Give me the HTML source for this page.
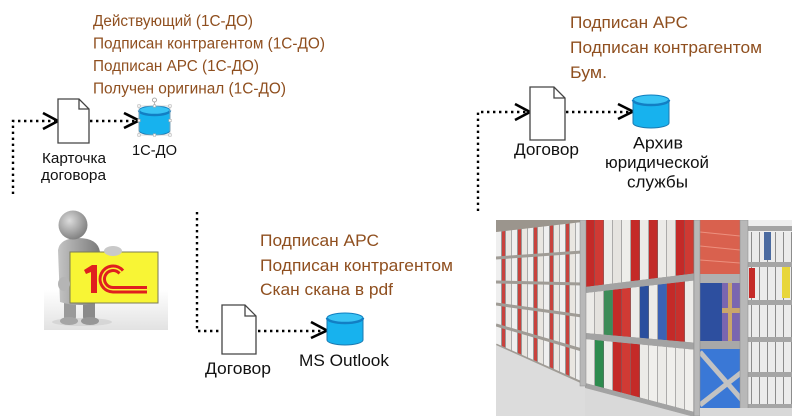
<!DOCTYPE html>
<html><head><meta charset="utf-8">
<style>html,body{margin:0;padding:0;background:#fff;overflow:hidden}svg{display:block}</style>
</head><body>
<svg width="792" height="416" viewBox="0 0 792 416" xmlns="http://www.w3.org/2000/svg" font-family="'Liberation Sans', 'Noto Sans CJK SC', Arial, sans-serif">
<defs>
  <clipPath id="pc"><rect x="496" y="220" width="296" height="196"/></clipPath>
  <clipPath id="r1"><polygon points="585,220 698,220 698,273 585,287"/></clipPath>
  <clipPath id="r2"><polygon points="585,293 698,280 698,343 585,333"/></clipPath>
  <clipPath id="r3"><polygon points="585,339 698,350 698,413 585,383"/></clipPath>
  <pattern id="pL" width="16" height="10" patternUnits="userSpaceOnUse">
    <rect x="0" y="0" width="5" height="10" fill="#efefef"/>
    <rect x="5" y="0" width="1" height="10" fill="#999"/>
    <rect x="6" y="0" width="3" height="10" fill="#c8423d"/>
    <rect x="9" y="0" width="1" height="10" fill="#999"/>
    <rect x="10" y="0" width="5" height="10" fill="#e9e6e1"/>
    <rect x="15" y="0" width="1" height="10" fill="#aaa"/>
  </pattern>
  <pattern id="pR" width="8" height="10" patternUnits="userSpaceOnUse">
    <rect x="0" y="0" width="7" height="10" fill="#ebebeb"/>
    <rect x="7" y="0" width="1" height="10" fill="#8c8c8c"/>
  </pattern>
  <linearGradient id="floorG" x1="0" y1="0" x2="0" y2="1">
    <stop offset="0" stop-color="#ffffff"/>
    <stop offset="1" stop-color="#e2e2e2"/>
  </linearGradient>
  <radialGradient id="headG" cx="0.38" cy="0.35" r="0.7">
    <stop offset="0" stop-color="#dcdcdc"/>
    <stop offset="1" stop-color="#7c7c7c"/>
  </radialGradient>
  <linearGradient id="bodyG" x1="0" y1="0" x2="1" y2="0">
    <stop offset="0" stop-color="#c4c4c4"/>
    <stop offset="1" stop-color="#7a7a7a"/>
  </linearGradient>
</defs>

<g fill="#8f4f1f">
  <text x="93" y="26" font-size="15.5" textLength="160" lengthAdjust="spacingAndGlyphs">Действующий (1С-ДО)</text>
  <text x="93" y="48.5" font-size="15.5" textLength="232" lengthAdjust="spacingAndGlyphs">Подписан контрагентом (1С-ДО)</text>
  <text x="93" y="71" font-size="15.5" textLength="166" lengthAdjust="spacingAndGlyphs">Подписан АРС (1С-ДО)</text>
  <text x="93" y="93.5" font-size="15.5" textLength="193" lengthAdjust="spacingAndGlyphs">Получен оригинал (1С-ДО)</text>

  <text x="570" y="28" font-size="17" textLength="118" lengthAdjust="spacingAndGlyphs">Подписан АРС</text>
  <text x="570" y="53" font-size="17" textLength="192" lengthAdjust="spacingAndGlyphs">Подписан контрагентом</text>
  <text x="570" y="78" font-size="17" textLength="37" lengthAdjust="spacingAndGlyphs">Бум.</text>

  <text x="260" y="246" font-size="17" textLength="119" lengthAdjust="spacingAndGlyphs">Подписан АРС</text>
  <text x="260" y="271" font-size="17" textLength="193" lengthAdjust="spacingAndGlyphs">Подписан контрагентом</text>
  <text x="260" y="295" font-size="17" textLength="133" lengthAdjust="spacingAndGlyphs">Скан скана в pdf</text>
</g>

<g stroke="#000" stroke-width="2.4" fill="none" stroke-dasharray="2.4 3.6">
  <polyline points="13,194 13,121 55,121"/>
  <line x1="90" y1="121" x2="136" y2="121"/>
  <polyline points="197,212 197,331 324,331"/>
  <polyline points="478,211 478,112 527,112"/>
  <line x1="566" y1="112" x2="630" y2="112"/>
</g>
<g stroke="#000" stroke-width="2.6" fill="none" stroke-linejoin="miter">
  <polyline points="43,113 58,121 43,129"/>
  <polyline points="124,113 139,120.5 124,128"/>
  <polyline points="311,322 327,330.5 311,338"/>
  <polyline points="515,104 530,112 515,120"/>
  <polyline points="618,104 633,111.5 618,119"/>
</g>

<g fill="#fff" stroke="#444" stroke-width="1.3">
  <path d="M58 99 H79 L89 109 V143 H58 Z"/>
  <path d="M79 99 V109 H89" fill="none"/>
  <path d="M222 305 H245 L256 316 V354 H222 Z"/>
  <path d="M245 305 V316 H256" fill="none"/>
  <path d="M530 87 H554 L565 98 V140 H530 Z"/>
  <path d="M554 87 V98 H565" fill="none"/>
</g>

<g>
  <path d="M139 110.5 V130.5 A15.5 4.5 0 0 0 170 130.5 V110.5 Z" fill="#17b2ee" stroke="#1b79b0" stroke-width="1"/>
  <ellipse cx="154.5" cy="110.5" rx="15.5" ry="4.5" fill="#38c3f4" stroke="#0f7fc0" stroke-width="1"/>
  <path d="M139 110.5 A15.5 4.5 0 0 0 170 110.5" fill="none" stroke="#127fc4" stroke-width="2.5"/>
  <rect x="139" y="106" width="31" height="29" fill="none" stroke="#bdbdbd" stroke-width="0.6"/>
  <line x1="154.5" y1="102" x2="154.5" y2="106" stroke="#aaa" stroke-width="0.8"/>
  <circle cx="154.5" cy="100" r="2" fill="#fff" stroke="#999" stroke-width="0.8"/>
  <g fill="#fff" stroke="#aaa" stroke-width="0.6">
    <rect x="137.8" y="104.8" width="2.4" height="2.4"/><rect x="153.3" y="104.8" width="2.4" height="2.4"/><rect x="168.8" y="104.8" width="2.4" height="2.4"/>
    <rect x="137.8" y="119.3" width="2.4" height="2.4"/><rect x="168.8" y="119.3" width="2.4" height="2.4"/>
    <rect x="137.8" y="133.8" width="2.4" height="2.4"/><rect x="153.3" y="133.8" width="2.4" height="2.4"/><rect x="168.8" y="133.8" width="2.4" height="2.4"/>
  </g>

  <path d="M327 318 V340 A18 5 0 0 0 363 340 V318 Z" fill="#17b2ee" stroke="#1b79b0" stroke-width="1"/>
  <ellipse cx="345" cy="318" rx="18" ry="5" fill="#38c3f4" stroke="#0f7fc0" stroke-width="1"/>
  <path d="M327 318 A18 5 0 0 0 363 318" fill="none" stroke="#127fc4" stroke-width="2.5"/>

  <path d="M633 100 V123 A18 5 0 0 0 669 123 V100 Z" fill="#17b2ee" stroke="#1b79b0" stroke-width="1"/>
  <ellipse cx="651" cy="100" rx="18" ry="5" fill="#38c3f4" stroke="#0f7fc0" stroke-width="1"/>
  <path d="M633 100 A18 5 0 0 0 669 100" fill="none" stroke="#127fc4" stroke-width="2.5"/>
</g>

<g fill="#111">
  <text x="74" y="163" font-size="15" text-anchor="middle" textLength="64" lengthAdjust="spacingAndGlyphs">Карточка</text>
  <text x="73.5" y="180" font-size="15" text-anchor="middle" textLength="65" lengthAdjust="spacingAndGlyphs">договора</text>
  <text x="154.5" y="155" font-size="15" text-anchor="middle" textLength="45" lengthAdjust="spacingAndGlyphs">1С-ДО</text>

  <text x="238" y="374" font-size="16.5" text-anchor="middle" textLength="66" lengthAdjust="spacingAndGlyphs">Договор</text>
  <text x="344" y="366" font-size="16.5" text-anchor="middle" textLength="90" lengthAdjust="spacingAndGlyphs">MS Outlook</text>

  <text x="546.5" y="155" font-size="16.5" text-anchor="middle" textLength="65" lengthAdjust="spacingAndGlyphs">Договор</text>
  <text x="658" y="148.5" font-size="16.5" text-anchor="middle" textLength="50" lengthAdjust="spacingAndGlyphs">Архив</text>
  <text x="657" y="168" font-size="16.5" text-anchor="middle" textLength="104" lengthAdjust="spacingAndGlyphs">юридической</text>
  <text x="657.5" y="187.5" font-size="16.5" text-anchor="middle" textLength="61" lengthAdjust="spacingAndGlyphs">службы</text>
</g>

<g>
  <rect x="44" y="290" width="124" height="40" fill="url(#floorG)"/>
  <ellipse cx="82" cy="322" rx="30" ry="4" fill="#cfcfcf" opacity="0.7"/>
  <rect x="64" y="298" width="12" height="22" rx="3" fill="#9a9a9a"/>
  <rect x="83" y="298" width="12" height="22" rx="3" fill="#8a8a8a"/>
  <ellipse cx="69" cy="321" rx="9" ry="4" fill="#a5a5a5"/>
  <ellipse cx="90" cy="321" rx="9" ry="4" fill="#969696"/>
  <path d="M58 250 Q60 238 78 238 Q98 238 100 252 L100 302 Q80 308 60 302 Z" fill="url(#bodyG)"/>
  <circle cx="73" cy="225" r="14.5" fill="url(#headG)"/>
  <rect x="70" y="252" width="88" height="51" fill="#f8f535" stroke="#7a7a55" stroke-width="1"/>
  <ellipse cx="113" cy="251" rx="9" ry="5" fill="#c9c9c9"/>
  <ellipse cx="64" cy="284" rx="6" ry="7" fill="#b5b5b5"/>
  <path d="M84 270 L92 265 L97 265 L97 293 L91 293 L91 272 L86 274 Z" fill="#e01f1f"/>
  <g fill="none" stroke="#e01f1f" stroke-width="3">
    <path d="M123 270.6 A13 13 0 1 0 113 292 L147 292"/>
    <path d="M119.5 273.5 A8.5 8.5 0 1 0 113 287.5 L147 287.5"/>
  </g>
</g>

<g clip-path="url(#pc)">
  <rect x="496" y="220" width="296" height="196" fill="#c4c0ba"/>
  <polygon points="496,232 582,222 582,383 496,345" fill="url(#pL)"/>
  <polygon points="496,220 582,220 582,222 496,232" fill="#9b958d"/>
  <g stroke="#a09c96" stroke-width="3">
    <line x1="496" y1="258" x2="582" y2="252"/>
    <line x1="496" y1="282" x2="582" y2="284"/>
    <line x1="496" y1="304" x2="582" y2="316"/>
    <line x1="496" y1="325" x2="582" y2="350"/>
    <line x1="496" y1="345" x2="582" y2="383"/>
  </g>
  <polygon points="496,345 585,385 585,416 496,416" fill="#dcdcdc"/>

  <g clip-path="url(#r1)">
    <rect x="585" y="220" width="113" height="70" fill="#6b6b6b"/>
    <rect x="586" y="220" width="8.5" height="70" fill="#c42a28"/>
    <rect x="595" y="220" width="8.5" height="70" fill="#d03a34"/>
    <rect x="604" y="220" width="8.5" height="70" fill="#ecebe8"/>
    <rect x="613" y="220" width="8.5" height="70" fill="#e6e4e0"/>
    <rect x="622" y="220" width="8.5" height="70" fill="#eeeeea"/>
    <rect x="631" y="220" width="8.5" height="70" fill="#c42a28"/>
    <rect x="640" y="220" width="8.5" height="70" fill="#ecebe8"/>
    <rect x="649" y="220" width="8.5" height="70" fill="#c22a28"/>
    <rect x="658" y="220" width="8.5" height="70" fill="#ecebe8"/>
    <rect x="667" y="220" width="8.5" height="70" fill="#e8e6e2"/>
    <rect x="676" y="220" width="8.5" height="70" fill="#c42a28"/>
    <rect x="685" y="220" width="8.5" height="70" fill="#cf3a33"/>
    <rect x="694" y="220" width="4" height="70" fill="#ecebe8"/>
  </g>
  <g clip-path="url(#r2)">
    <rect x="585" y="280" width="113" height="65" fill="#6b6b6b"/>
    <rect x="586" y="280" width="8.5" height="65" fill="#ecebe8"/>
    <rect x="595" y="280" width="8.5" height="65" fill="#e4e2de"/>
    <rect x="604" y="280" width="8.5" height="65" fill="#3d8c58"/>
    <rect x="613" y="280" width="8.5" height="65" fill="#c42a28"/>
    <rect x="622" y="280" width="8.5" height="65" fill="#d03a34"/>
    <rect x="631" y="280" width="8.5" height="65" fill="#ecebe8"/>
    <rect x="640" y="280" width="8.5" height="65" fill="#2a4f9e"/>
    <rect x="649" y="280" width="8.5" height="65" fill="#ecebe8"/>
    <rect x="658" y="280" width="8.5" height="65" fill="#3b62b5"/>
    <rect x="667" y="280" width="8.5" height="65" fill="#c42a28"/>
    <rect x="676" y="280" width="8.5" height="65" fill="#c8302c"/>
    <rect x="685" y="280" width="8.5" height="65" fill="#ecebe8"/>
    <rect x="694" y="280" width="4" height="65" fill="#e4e2de"/>
  </g>
  <g clip-path="url(#r3)">
    <rect x="585" y="339" width="113" height="76" fill="#6b6b6b"/>
    <rect x="586" y="339" width="8.5" height="76" fill="#ecebe8"/>
    <rect x="595" y="339" width="8.5" height="76" fill="#2e8b4e"/>
    <rect x="604" y="339" width="8.5" height="76" fill="#ecebe8"/>
    <rect x="613" y="339" width="8.5" height="76" fill="#c42a28"/>
    <rect x="622" y="339" width="8.5" height="76" fill="#d03a34"/>
    <rect x="631" y="339" width="8.5" height="76" fill="#c42a28"/>
    <rect x="640" y="339" width="8.5" height="76" fill="#ecebe8"/>
    <rect x="649" y="339" width="8.5" height="76" fill="#f0efec"/>
    <rect x="658" y="339" width="8.5" height="76" fill="#ecebe8"/>
    <rect x="667" y="339" width="8.5" height="76" fill="#f0efec"/>
    <rect x="676" y="339" width="8.5" height="76" fill="#ecebe8"/>
    <rect x="685" y="339" width="8.5" height="76" fill="#f0efec"/>
    <rect x="694" y="339" width="4" height="76" fill="#ecebe8"/>
  </g>
  <g fill="#a3a3a3">
    <polygon points="585,287 698,273 698,280 585,293"/>
    <polygon points="585,333 698,343 698,350 585,339"/>
    <polygon points="585,383 698,413 698,418 585,388"/>
  </g>
  <polygon points="585,388 698,418 585,418" fill="#d9d9d9"/>

  <rect x="700" y="220" width="40" height="54" fill="#d9614e"/>
  <g stroke="#ec907e" stroke-width="1">
    <line x1="700" y1="232" x2="740" y2="236"/>
    <line x1="700" y1="246" x2="740" y2="250"/>
    <line x1="700" y1="260" x2="740" y2="263"/>
  </g>
  <rect x="700" y="274" width="40" height="9" fill="#b0b0b0"/>
  <rect x="700" y="283" width="22" height="58" fill="#2d4f9f"/>
  <rect x="722" y="283" width="18" height="58" fill="#7a66b0"/>
  <rect x="728" y="283" width="4" height="58" fill="#c9a66b"/>
  <rect x="722" y="308" width="18" height="5" fill="#c9a66b"/>
  <rect x="700" y="341" width="40" height="8" fill="#a8a8a8"/>
  <rect x="700" y="349" width="40" height="60" fill="#3a78d6"/>
  <g stroke="#c2c2c2" stroke-width="5">
    <line x1="700" y1="352" x2="742" y2="400"/>
    <line x1="700" y1="405" x2="742" y2="372"/>
  </g>

  <rect x="748" y="220" width="44" height="196" fill="#efefef"/>
  <rect x="748" y="232" width="44" height="30" fill="url(#pR)"/>
  <rect x="748" y="267" width="44" height="33" fill="url(#pR)"/>
  <rect x="748" y="305" width="44" height="32" fill="url(#pR)"/>
  <rect x="748" y="342" width="44" height="30" fill="url(#pR)"/>
  <rect x="748" y="377" width="44" height="27" fill="url(#pR)"/>
  <rect x="764" y="232" width="7" height="28" fill="#4a6aa0"/>
  <rect x="749" y="268" width="6" height="30" fill="#c42a28"/>
  <rect x="782" y="267" width="8" height="31" fill="#e8d63a"/>
  <g fill="#a5a5a5">
    <rect x="748" y="226" width="44" height="5"/>
    <rect x="748" y="262" width="44" height="5"/>
    <rect x="748" y="300" width="44" height="5"/>
    <rect x="748" y="337" width="44" height="5"/>
    <rect x="748" y="372" width="44" height="5"/>
    <rect x="748" y="404" width="44" height="4"/>
  </g>

  <g fill="#b8b8b8" stroke="#8a8a8a" stroke-width="0.5">
    <rect x="580" y="220" width="6" height="166"/>
    <rect x="694" y="220" width="6" height="196"/>
    <rect x="740" y="220" width="8" height="190"/>
  </g>
  <rect x="700" y="408" width="92" height="8" fill="#d8d8d8"/>
</g>
</svg>
</body></html>
